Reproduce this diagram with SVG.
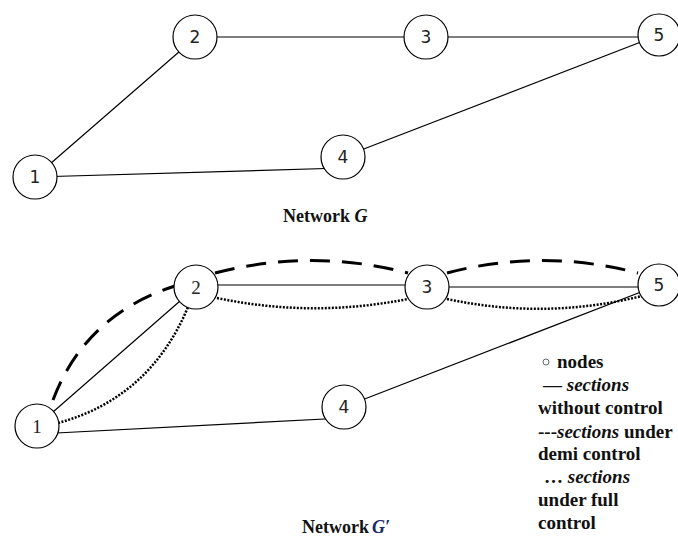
<svg xmlns="http://www.w3.org/2000/svg" width="678" height="538" viewBox="0 0 678 538">
<style>
.n{fill:#fff;stroke:#000;stroke-width:1.2}
.t{font-family:"DejaVu Sans",sans-serif;font-size:17px;text-anchor:middle;fill:#222}
.ts{font-family:"Liberation Serif","Times New Roman","DejaVu Serif",serif;font-size:19px;text-anchor:middle;fill:#222}
.e{fill:none;stroke:#000;stroke-width:1.2}
.d{fill:none;stroke:#000;stroke-width:3;stroke-dasharray:20 12}
.o{fill:none;stroke:#000;stroke-width:2.5;stroke-dasharray:2 1.5}
.cap{font-family:"Liberation Serif","Times New Roman","DejaVu Serif",serif;font-size:18px;font-weight:bold;fill:#111}
.lg{font-family:"Liberation Serif","Times New Roman","DejaVu Serif",serif;font-size:19px;font-weight:bold;fill:#111}
</style>
<rect width="678" height="538" fill="#fff"/>
<g id="edges">
<line class="e" x1="35" y1="177" x2="195" y2="38"/>
<line class="e" x1="195" y1="37" x2="426" y2="37"/>
<line class="e" x1="426" y1="37" x2="659" y2="37"/>
<line class="e" x1="35" y1="177" x2="343" y2="168"/>
<line class="e" x1="343" y1="157" x2="659" y2="35"/>
<line class="e" x1="37" y1="426" x2="196" y2="287"/>
<line class="e" x1="196" y1="285" x2="427" y2="285"/>
<line class="e" x1="427" y1="287" x2="659" y2="287"/>
<line class="e" x1="37" y1="434" x2="344" y2="418"/>
<line class="e" x1="344" y1="407" x2="659" y2="285"/>
<path class="d" d="M53,400 Q85,315 175,286"/>
<path class="d" d="M215,273 Q312,248 408,273"/>
<path class="d" d="M447,273 Q542,248 638,273"/>
<path class="o" d="M58,423 Q150,398 188,307"/>
<path class="o" d="M217,298 Q312,318 408,299"/>
<path class="o" d="M447,299 Q545,320 642,296"/>
</g>
<g id="n1"><circle class="n" cx="35" cy="177" r="22"/><text class="t" x="35" y="183">1</text></g>
<g id="n2"><circle class="n" cx="195" cy="37" r="22"/><text class="t" x="195" y="43">2</text></g>
<g id="n3"><circle class="n" cx="426" cy="37" r="22"/><text class="t" x="426" y="43">3</text></g>
<g id="n4"><circle class="n" cx="343" cy="157" r="22"/><text class="t" x="343" y="163">4</text></g>
<g id="n5"><circle class="n" cx="659" cy="35" r="21"/><text class="t" x="659" y="41">5</text></g>
<text class="cap" x="283" y="222">Network <tspan font-style="italic">G</tspan></text>
<g id="m1"><circle class="n" cx="37" cy="426" r="22"/><text class="ts" x="37" y="433">1</text></g>
<g id="m2"><circle class="n" cx="196" cy="287" r="22"/><text class="ts" x="196" y="294">2</text></g>
<g id="m3"><circle class="n" cx="427" cy="287" r="22"/><text class="t" x="427" y="293">3</text></g>
<g id="m4"><circle class="n" cx="344" cy="407" r="22"/><text class="t" x="344" y="413">4</text></g>
<g id="m5"><circle class="n" cx="659" cy="285" r="21"/><text class="t" x="659" y="291">5</text></g>
<text class="cap" x="302" y="533">Network<tspan font-style="italic" fill="#1a2a6a" dx="3">G′</tspan></text>
<g id="legend">
<circle cx="546" cy="362" r="3" fill="none" stroke="#666" stroke-width="1"/>
<text class="lg" x="557" y="368">nodes</text>
<text class="lg" x="543" y="391">— <tspan font-style="italic">sections</tspan></text>
<text class="lg" x="538" y="414">without control</text>
<text class="lg" x="538" y="438">---<tspan font-style="italic">sections</tspan> under</text>
<text class="lg" x="538" y="460">demi control</text>
<text class="lg" x="544" y="483">… <tspan font-style="italic">sections</tspan></text>
<text class="lg" x="538" y="506">under full</text>
<text class="lg" x="538" y="529">control</text>
</g>
</svg>
